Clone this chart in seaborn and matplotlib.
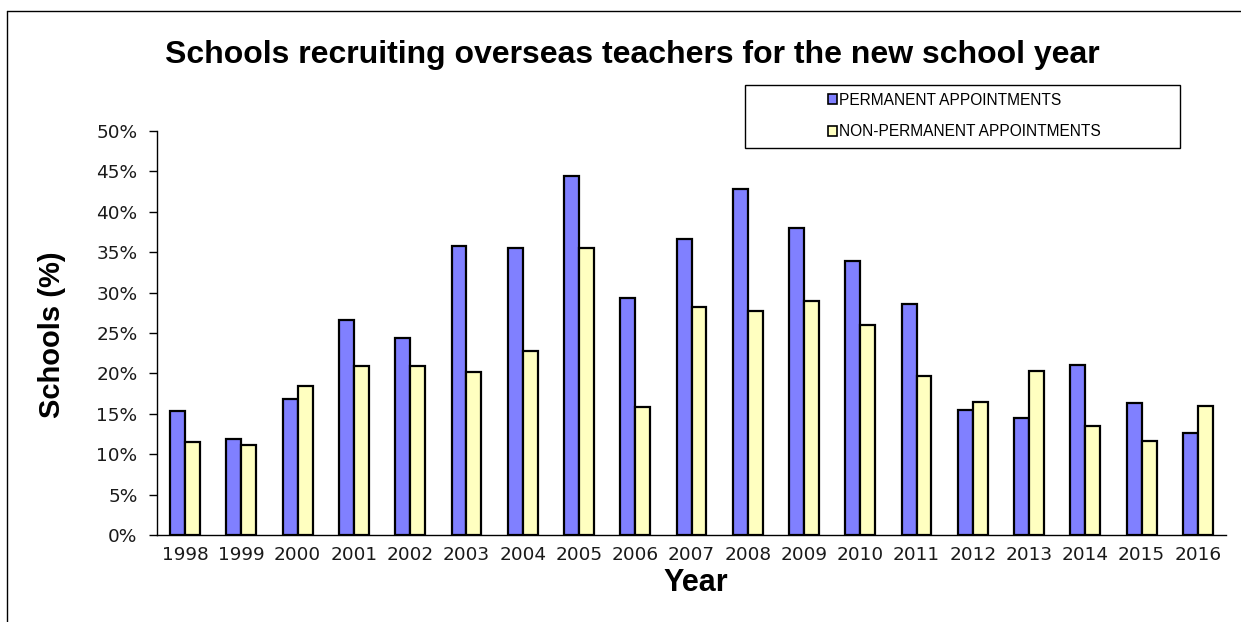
import numpy as np
import pandas as pd
import seaborn as sns
import matplotlib.pyplot as plt
from matplotlib.patches import Patch, Rectangle
from matplotlib.lines import Line2D
from matplotlib.ticker import PercentFormatter, MultipleLocator

years = [str(y) for y in range(1998, 2017)]
permanent = [15.4, 11.9, 16.8, 26.6, 24.4, 35.8, 35.5, 44.4, 29.3, 36.6,
             42.8, 38.0, 33.9, 28.6, 15.5, 14.5, 21.1, 16.3, 12.6]
non_permanent = [11.5, 11.1, 18.4, 20.9, 20.9, 20.2, 22.8, 35.5, 15.9, 28.2,
                 27.7, 29.0, 26.0, 19.7, 16.5, 20.3, 13.5, 11.6, 16.0]
series = ["PERMANENT APPOINTMENTS", "NON-PERMANENT APPOINTMENTS"]
colors = ["#8080FF", "#FFFFC0"]

df = pd.DataFrame({"Year": years * 2,
                   "Value": permanent + non_permanent,
                   "Type": [series[0]] * len(years) + [series[1]] * len(years)})

sns.set_style("white")
plt.rcParams['font.family'] = ['Liberation Sans', 'DejaVu Sans']
plt.rcParams['text.color'] = 'black'

fig = plt.figure(figsize=(12.41, 6.22), dpi=100)
ax = fig.add_axes([157 / 1241, 1 - 535 / 622, (1226 - 157) / 1241, (535 - 131) / 622])

sns.barplot(data=df, x="Year", y="Value", hue="Type", palette=colors, saturation=1,
            width=0.53, edgecolor="black", linewidth=1.6, ax=ax, legend=False)

ax.set_xlim(-0.5, len(years) - 0.5)
ax.set_ylim(0, 50)
ax.yaxis.set_major_locator(MultipleLocator(5))
ax.yaxis.set_major_formatter(PercentFormatter(decimals=0))
ax.set_xticks(np.arange(len(years)))
ax.set_xticklabels(years)
ax.set_xticks(np.arange(len(years) + 1) - 0.5, minor=True)
ax.tick_params(axis="x", which="major", length=0, pad=8)
ax.tick_params(axis="x", which="minor", length=6, width=1, color="black", direction="out")
ax.tick_params(axis="y", length=6, width=1, color="black", direction="out", pad=8, left=True)
for lab in ax.get_xticklabels() + ax.get_yticklabels():
    lab.set_fontfamily("DejaVu Sans")
    lab.set_fontsize(13.3)
    lab.set_color("#1a1a1a")

for s in ["top", "right"]:
    ax.spines[s].set_visible(False)
for s in ["left", "bottom"]:
    ax.spines[s].set_color("black")
    ax.spines[s].set_linewidth(1)

ax.set_xlabel("")
ax.set_ylabel("")
fig.text(696 / 1241, 1 - 583 / 622, "Year", fontsize=22, fontweight="bold",
         ha="center", va="center")
fig.text(52 / 1241, 1 - 335 / 622, "Schools (%)", fontsize=21, fontweight="bold",
         rotation=90, ha="center", va="center")
fig.text(632 / 1241, 1 - 55 / 622, "Schools recruiting overseas teachers for the new school year",
         fontsize=23, fontweight="bold", ha="center", va="center")

# legend box
fig.add_artist(Rectangle((745 / 1241, 1 - 148 / 622), (1180 - 745) / 1241, (148 - 85) / 622,
                         transform=fig.transFigure, fill=False, edgecolor="black", linewidth=1))
handles = [Patch(facecolor=c, edgecolor="black", linewidth=1.2) for c in colors]
fig.legend(handles, series, loc="center left", bbox_to_anchor=(820 / 1241, 1 - 116 / 622),
           frameon=False, fontsize=11.2, handlelength=0.6, handleheight=0.6,
           handletextpad=0.1, labelspacing=1.05, borderpad=0)

# outer frame
fig.add_artist(Line2D([7 / 1241, 1], [1 - 11 / 622, 1 - 11 / 622], transform=fig.transFigure,
                      color="black", linewidth=1))
fig.add_artist(Line2D([7 / 1241, 7 / 1241], [0, 1 - 11 / 622], transform=fig.transFigure,
                      color="black", linewidth=1))

fig.savefig("out.png", dpi=100)
